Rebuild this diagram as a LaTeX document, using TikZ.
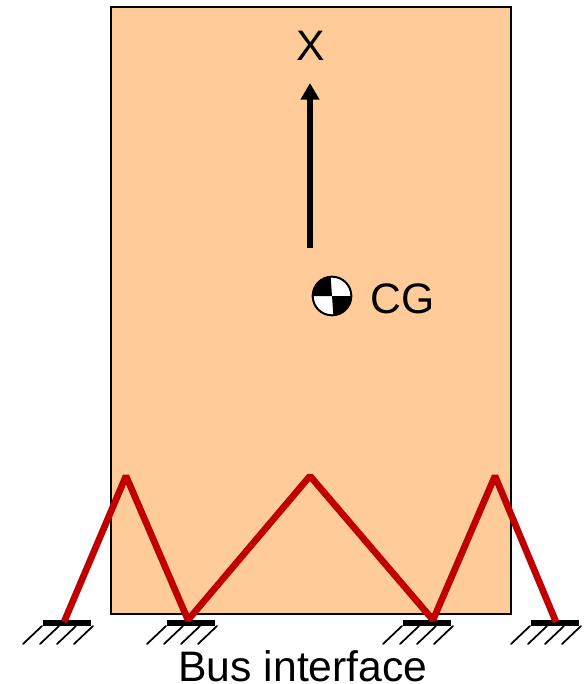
\documentclass[tikz,border=0pt]{standalone}
\usepackage{fontspec}
\setmainfont{Liberation Sans}
\usepackage{xcolor}
\usetikzlibrary{arrows.meta,positioning}
\definecolor{bodyfill}{HTML}{FFCC99}
\definecolor{strutred}{HTML}{C00000}

\begin{document}
\begin{tikzpicture}[
    x=0.75pt, y=-0.75pt,
    body/.style={rectangle, draw, line width=1.9pt, fill=bodyfill, minimum width=300pt, minimum height=455.25pt, inner sep=0pt},
    plate/.style={rectangle, fill=black, minimum width=36pt, minimum height=4.5pt, inner sep=0pt},
    hatchline/.style={line width=1.3pt, line cap=round},
    strut/.style={line width=5pt, draw=strutred, line join=bevel},
    arrow/.style={-{Triangle[length=12.5pt, width=13.5pt]}, line width=4.4pt},
    label/.style={font=\fontsize{32pt}{34pt}\selectfont, inner sep=0pt},
  ]
    \useasboundingbox (0,0) rectangle (584,684);

    % Body
    \node[body] (body) at (311,310.5) {};

    % Axis
    \coordinate (axisstart) at (310,248);
    \coordinate (axisend) at (310,83);
    \draw[arrow] (axisstart) -- (axisend);
    \node[label] (xlabel) at (311,46) {X};

    % CG symbol
    \coordinate (cg) at (332,296);
    \fill[white] (cg) circle (15pt);
    \fill (cg) -- ++(-20,0) arc (180:90:14pt) -- cycle;
    \fill (cg) -- ++(20,0) arc (0:-90:14pt) -- cycle;
    \draw[line width=1.5pt] (cg) circle (14.5pt);
    \node[label, right=28.5pt of cg, yshift=-2pt] (cglabel) {CG};

    % Ground plates
    \foreach \name/\px in {plateA/67, plateB/191, plateC/427, plateD/555} {
      \node[plate] (\name) at (\px,623) {};
      \foreach \hx in {0,17,34,51}
        \draw[hatchline] ([shift={(-44+\hx,21)}]\name.center) -- ([shift={(-25+\hx,3)}]\name.center);
    }

    % Truss
    \coordinate (apexA) at (126,476);
    \coordinate (apexB) at (310,476);
    \coordinate (apexC) at (495,476);
    \coordinate (footA) at (64,622);
    \coordinate (footB) at (188,620);
    \coordinate (footC) at (433,620);
    \coordinate (footD) at (556,622);
    \draw[strut] (footA) -- (apexA) -- (footB) -- (apexB) -- (footC) -- (apexC) -- (footD);

    \node[label] (buslabel) at (303,666) {Bus interface};
\end{tikzpicture}
\end{document}
